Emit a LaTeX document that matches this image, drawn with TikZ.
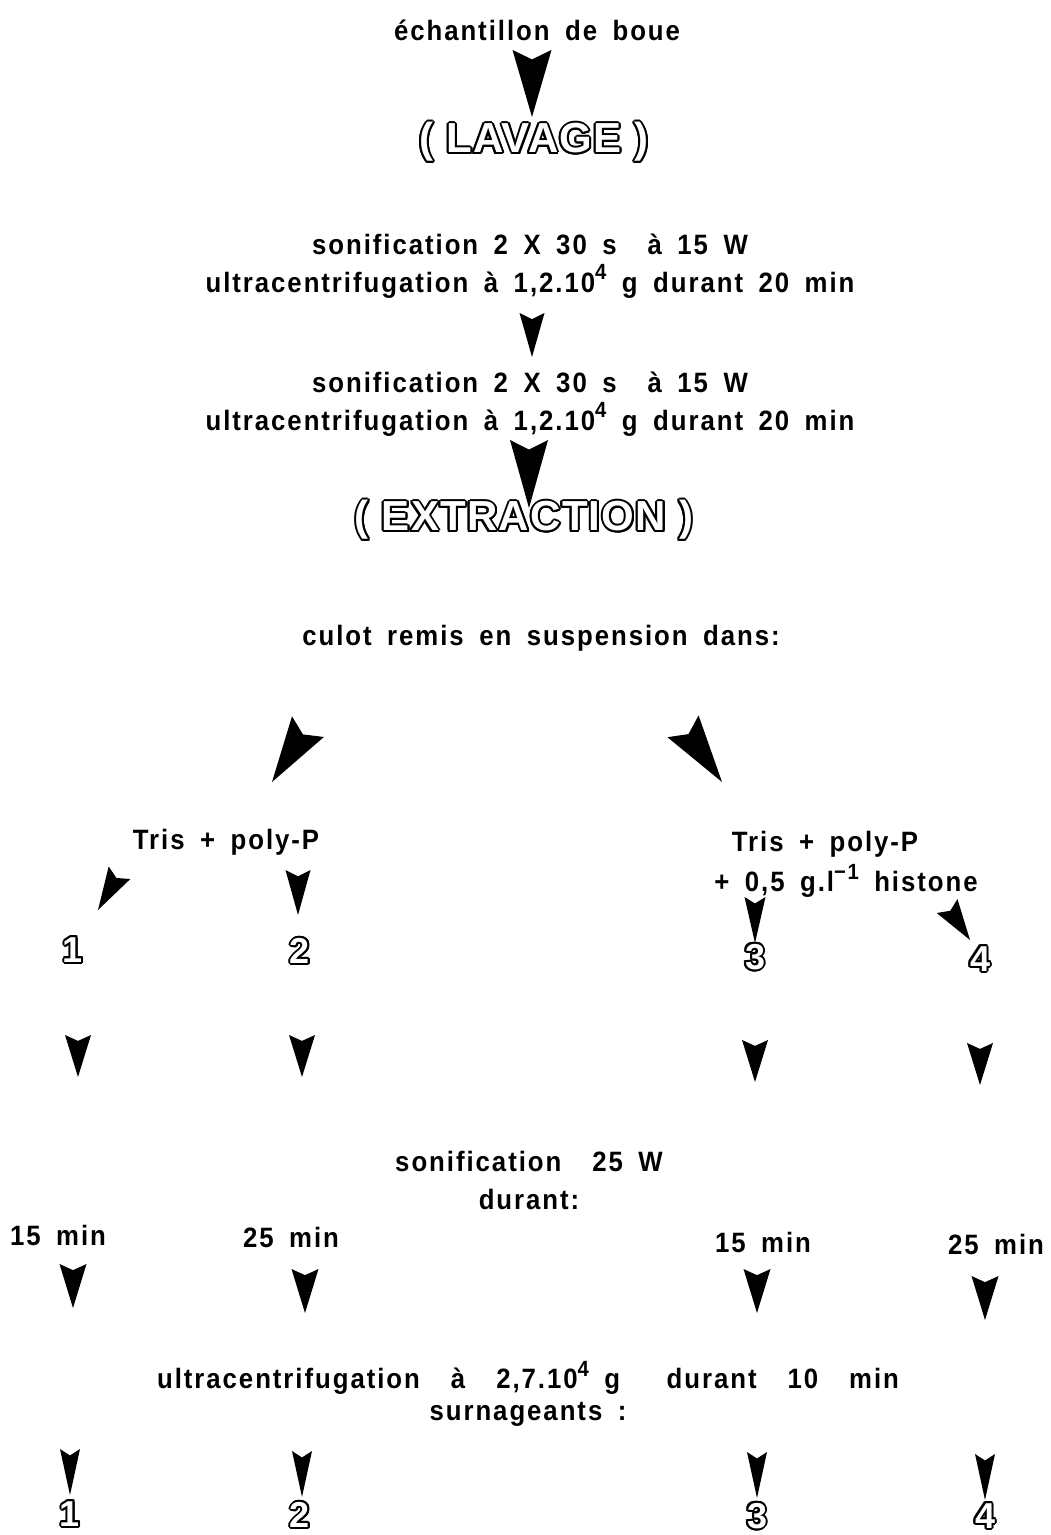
\documentclass[tikz,border=0pt]{standalone}
\usepackage{fontspec}
\setmainfont{Liberation Sans}
\newfontfamily\spaced{Liberation Sans}[FakeStretch=0.92, LetterSpace=7, WordSpace=1.7]
\newfontfamily\hollowfont{Liberation Sans}[LetterSpace=3]
\usepackage[copies]{contour}
\contourlength{1pt}
\newcommand{\Hollow}[1]{\contour{black}{\textcolor{white}{#1}}}
\newcommand{\Expo}[1]{\raisebox{0.85ex}{\fontsize{11}{11}\selectfont #1}}
% filled arrow head: tip, angle, length, width
\newcommand{\DrawHead}[4]{
    \fill[shift={#1}, rotate=#2]
    (0,0) -- ({-#3}, {#4/2}) -- ({-0.86*#3}, 0) -- ({-#3}, {-#4/2}) -- cycle;
}

\begin{document}
\begin{tikzpicture}[
        x=0.5pt, y=-0.5pt,
        txt/.style={font=\spaced\fontsize{14}{19}\selectfont\bfseries, inner sep=0pt, align=center},
        title/.style={font=\hollowfont\fontsize{21}{24}\selectfont\bfseries, inner sep=0pt},
        num/.style={font=\hollowfont\fontsize{18}{20}\selectfont\bfseries, inner sep=0pt}
    ]
  \useasboundingbox (0,0) rectangle (1050,1535);

  %%% Washing
  \node[txt] (sample) at (537,30) {échantillon de boue};
  \DrawHead{(532,117)}{-90}{67}{39};
  \node[title] (wash) at (534,143) {\Hollow{( LAVAGE )}};

  \node[txt] (sonA) at (530,266) {sonification 2 X 30 s \ à 15 W\\
    ultracentrifugation à 1,2.10\Expo{4} g durant 20 min};
  \DrawHead{(532,357)}{-90}{44}{25};
  \node[txt] (sonB) at (530,404) {sonification 2 X 30 s \ à 15 W\\
    ultracentrifugation à 1,2.10\Expo{4} g durant 20 min};
  \DrawHead{(529,508)}{-90}{68}{38};

  %%% Extraction
  \node[title] (extr) at (524,521) {\Hollow{( EXTRACTION )}};
  \node[txt] (culot) at (541,638) {culot remis en suspension dans:};
  \DrawHead{(272,782)}{-123}{66}{38};
  \DrawHead{(722,782)}{-55}{68}{38};

  % buffers
  \node[txt] (bufL) at (226,842) {Tris + poly-P};
  \node[txt] (bufR) at (825,844) {Tris + poly-P};
  \node[txt] (hist) at (846,881) {+ 0,5 g.l\Expo{−1} histone};
  \DrawHead{(98,910)}{-120}{43}{25};
  \DrawHead{(298,915)}{-90}{45}{25};
  \DrawHead{(755,943)}{-90}{46}{21};
  \DrawHead{(970,940)}{-56}{41}{25};

  % samples
  \node[num] (s1) at (73,951) {\Hollow{1}};
  \node[num] (s2) at (300,952) {\Hollow{2}};
  \node[num] (s3) at (755,958) {\Hollow{3}};
  \node[num] (s4) at (980,960) {\Hollow{4}};
  \foreach \x/\y in {78/1077, 302/1077, 755/1082, 980/1085}
    \DrawHead{(\x,\y)}{-90}{42}{26};

  %%% Sonification
  \node[txt] (sonC) at (529,1180) {sonification \ 25 W\\ durant:};
  \node[txt] (t1) at (58,1235) {15 min};
  \node[txt] (t2) at (291,1237) {25 min};
  \node[txt] (t3) at (763,1242) {15 min};
  \node[txt] (t4) at (996,1244) {25 min};
  \foreach \x/\y in {73/1308, 305/1313, 757/1313, 985/1320}
    \DrawHead{(\x,\y)}{-90}{44}{27};

  %%% Supernatants
  \node[txt] (ultra) at (528,1378) {ultracentrifugation \ à \ 2,7.10\Expo{4} g \ \ durant \ 10 \ min};
  \node[txt] (surn) at (528,1414) {surnageants :};
  \foreach \x/\y in {70/1495, 302/1497, 757/1498, 985/1500}
    \DrawHead{(\x,\y)}{-90}{46}{20};
  \node[num] (r1) at (70,1515) {\Hollow{1}};
  \node[num] (r2) at (300,1516) {\Hollow{2}};
  \node[num] (r3) at (757,1517) {\Hollow{3}};
  \node[num] (r4) at (985,1517) {\Hollow{4}};
\end{tikzpicture}
\end{document}
